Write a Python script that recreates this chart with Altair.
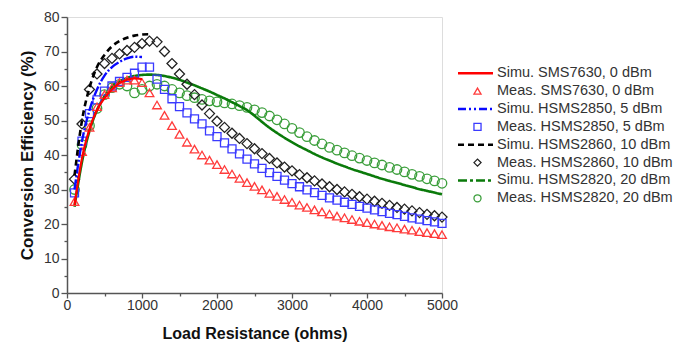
import altair as alt
import pandas as pd

# ---------------- data ----------------
load_ohms = [100, 200, 300, 400, 500, 600, 700, 800, 900, 1000,
             1100, 1200, 1300, 1400, 1500, 1600, 1700, 1800, 1900, 2000,
             2100, 2200, 2300, 2400, 2500, 2600, 2700, 2800, 2900, 3000,
             3100, 3200, 3300, 3400, 3500, 3600, 3700, 3800, 3900, 4000,
             4100, 4200, 4300, 4400, 4500, 4600, 4700, 4800, 4900, 5000]

meas_sms7630 = [26.5, 41, 48, 54, 57.5, 59.5, 61, 61.7, 61.7, 61,
                58, 54.5, 51.5, 48.5, 46, 43.7, 41.7, 40, 38.5, 37.2,
                35.8, 34.5, 33.2, 32, 30.9, 29.9, 28.9, 28, 27.1, 26.3,
                25.5, 24.8, 24.1, 23.5, 22.9, 22.3, 21.8, 21.3, 20.8, 20.4,
                20, 19.6, 19.2, 18.9, 18.5, 18.2, 17.8, 17.5, 17.2, 16.9]

meas_hsms2850 = [29, 44, 52, 56, 58.5, 60, 61.3, 62.5, 63.7, 65.5,
                 65.5, 62, 59, 56.3, 54, 52.2, 50.5, 49, 47, 45.3,
                 43.5, 41.8, 40.3, 38.8, 37.4, 36.1, 34.9, 33.8, 32.7, 31.7,
                 30.8, 29.9, 29.1, 28.3, 27.6, 26.9, 26.3, 25.7, 25.1, 24.6,
                 24.1, 23.6, 23.1, 22.7, 22.2, 21.8, 21.4, 21, 20.6, 20.2]

meas_hsms2860 = [33, 49, 59, 63.5, 66.5, 68, 69.3, 70.3, 71.2, 72.3,
                 73, 72.8, 70, 66.5, 63.5, 60.5, 57.5, 54.5, 52, 49.8,
                 48, 46.3, 44.8, 43.3, 41.8, 40.4, 39, 37.7, 36.5, 35.4,
                 34.3, 33.4, 32.5, 31.6, 30.8, 30, 29.3, 28.6, 27.9, 27.2,
                 26.6, 26, 25.4, 24.8, 24.3, 23.8, 23.3, 22.8, 22.4, 22]

meas_hsms2820 = [30, 43, 48.5, 53.5, 57.5, 59.5, 60.5, 60, 58, 59,
                 60, 60.5, 60, 59, 58, 57.2, 56.6, 56.1, 55.7, 55.4,
                 55.1, 54.8, 54.3, 53.8, 53.1, 52.3, 51.3, 50.2, 49, 47.7,
                 46.5, 45.3, 44.2, 43.2, 42.2, 41.4, 40.6, 39.8, 39.1, 38.4,
                 37.7, 37.1, 36.4, 35.8, 35.1, 34.4, 33.8, 33.1, 32.5, 31.8]

simu_hsms2820 = [25, 38, 47, 53, 57, 59.8, 61.3, 62.3, 62.9, 63.2,
                 63.3, 63.2, 62.9, 62.4, 61.8, 61, 60.2, 59.3, 58.4, 57.4,
                 56.4, 55.3, 54.2, 53, 51.4, 49.6, 47.9, 46.4, 45, 43.7,
                 42.5, 41.4, 40.3, 39.3, 38.4, 37.5, 36.7, 35.9, 35.2, 34.5,
                 33.8, 33.1, 32.5, 31.9, 31.3, 30.7, 30.1, 29.6, 29.1, 28.6]

simu_short_ohms = [100, 200, 300, 400, 500, 600, 700, 800, 900, 1000, 1100]
simu_sms7630 = [25.5, 39, 47.5, 53, 56.5, 59, 60.8, 61.8, 62.2, 62]
simu_hsms2850 = [30, 44, 53, 59, 63, 65.5, 67, 68, 68.5, 68.4]
simu_hsms2860 = [34, 50, 59.5, 65.5, 69, 71.5, 73, 74, 74.6, 74.9, 75]

legend_labels = ["Simu. SMS7630, 0 dBm", "Meas. SMS7630, 0 dBm",
                 "Simu. HSMS2850, 5 dBm", "Meas. HSMS2850, 5 dBm",
                 "Simu. HSMS2860, 10 dBm", "Meas. HSMS2860, 10 dBm",
                 "Simu. HSMS2820, 20 dBm", "Meas. HSMS2820, 20 dBm"]

# ---------------- styles ----------------
FONT = "Liberation Sans"
RED, RED_M = "#ff0000", "#ff3b3b"
BLUE, BLUE_M = "#0a0aff", "#3a3aff"
BLACK, BLACK_M = "#000000", "#222222"
GREEN, GREEN_M = "#0a7a0a", "#3a9e3a"
DASH_RED = [1, 0]
DASH_BLUE = [8, 3, 2, 3, 2, 3]
DASH_BLACK = [6, 4]
DASH_GREEN = [9, 3, 3, 3]
AXIS_COLOR = "#555555"

x_enc = alt.X(
    "R:Q",
    scale=alt.Scale(domain=[0, 5000], nice=False, zero=False),
    axis=alt.Axis(
        title="Load Resistance (ohms)",
        values=list(range(0, 5001, 500)),
        labelExpr="datum.value % 1000 === 0 ? datum.label : ''",
        format="d",
        tickSize={"condition": {"test": "datum.value % 1000 === 0", "value": 5}, "value": 3},
        grid=False, labelFlush=False, labelOverlap=False,
        labelFont=FONT, labelFontSize=14, labelColor="#333333", labelPadding=0,
        titleFont=FONT, titleFontSize=16, titleFontWeight="bold", titleColor="#111111",
        titlePadding=13,
        domainColor=AXIS_COLOR, domainWidth=1.5, tickColor=AXIS_COLOR, tickWidth=1.3,
    ),
)
y_enc = alt.Y(
    "eff:Q",
    scale=alt.Scale(domain=[0, 80], nice=False),
    axis=alt.Axis(
        title="Conversion Efficiency (%)",
        values=list(range(0, 81, 5)),
        labelExpr="datum.value % 10 === 0 ? datum.label : ''",
        tickSize={"condition": {"test": "datum.value % 10 === 0", "value": 6}, "value": 3},
        grid=False, labelOverlap=False,
        labelFont=FONT, labelFontSize=14, labelColor="#333333", labelPadding=2,
        titleFont=FONT, titleFontSize=17, titleFontWeight="bold", titleColor="#111111",
        titlePadding=7,
        domainColor=AXIS_COLOR, domainWidth=1.5, tickColor=AXIS_COLOR, tickWidth=1.3,
    ),
)


def simu_line(ohms, vals, color, dash, width):
    df = pd.DataFrame({"R": ohms[:len(vals)], "eff": vals})
    return alt.Chart(df).mark_line(
        color=color, strokeDash=dash, strokeWidth=width, interpolate="monotone"
    ).encode(x=x_enc, y=y_enc)


def meas_points(vals, color, shape, size):
    df = pd.DataFrame({"R": load_ohms, "eff": vals})
    return alt.Chart(df).mark_point(
        shape=shape, size=size, filled=False, color=color, strokeWidth=1.3, opacity=1
    ).encode(x=x_enc, y=y_enc)


main = alt.layer(
    meas_points(meas_hsms2820, GREEN_M, "circle", 90),
    simu_line(load_ohms, simu_hsms2820, GREEN, [1, 0], 2.6),
    meas_points(meas_hsms2860, BLACK_M, "diamond", 100),
    meas_points(meas_hsms2850, BLUE_M, "square", 64),
    meas_points(meas_sms7630, RED_M, "triangle-up", 75),
    simu_line(simu_short_ohms, simu_sms7630, RED, DASH_RED, 2.2),
    simu_line(simu_short_ohms, simu_hsms2850, BLUE, [10, 2, 2, 2], 2.4),
    simu_line(simu_short_ohms, simu_hsms2860, BLACK, DASH_BLACK, 2.6),
)

# ---------------- legend (drawn to the right of the plot area) ----------------
leg = pd.DataFrame({
    "idx": list(range(8)),
    "label": legend_labels,
    "color": [RED, RED_M, BLUE, BLUE_M, BLACK, BLACK_M, GREEN, GREEN_M],
    "dash": [DASH_RED, [1, 0], DASH_BLUE, [1, 0], DASH_BLACK, [1, 0], DASH_GREEN, [1, 0]],
    "shape": ["circle", "triangle-up", "circle", "square", "circle", "diamond", "circle", "circle"],
    "kind": ["simu", "meas"] * 4,
})
leg_y = alt.Y("idx:Q", scale=alt.Scale(domain=[-3.15, 12.3], reverse=True, nice=False, zero=False), axis=None)

leg_lines = alt.Chart(leg).transform_filter("datum.kind === 'simu'").mark_rule(strokeWidth=2.4).encode(
    x=alt.value(391), x2=alt.value(426), y=leg_y,
    color=alt.Color("color:N", scale=None),
    strokeDash=alt.StrokeDash("dash", scale=None),
)
leg_marks = alt.Chart(leg).transform_filter("datum.kind === 'meas'").mark_point(
    filled=False, size=50, strokeWidth=1.3, opacity=1
).encode(
    x=alt.value(410.5), y=leg_y,
    color=alt.Color("color:N", scale=None),
    shape=alt.Shape("shape:N", scale=None),
)
leg_text = alt.Chart(leg).mark_text(
    align="left", baseline="middle", font=FONT, fontSize=14.5, color="#333333"
).encode(x=alt.value(430), y=leg_y, text="label:N")

legend_layer = alt.layer(leg_lines, leg_marks, leg_text)

chart = alt.layer(main, legend_layer).resolve_scale(y="independent").properties(
    width=375, height=276,
    autosize=alt.AutoSizeParams(type="none"),
    padding={"left": 67, "top": 17, "right": 253, "bottom": 52},
).configure_view(stroke=AXIS_COLOR, strokeWidth=1.5).configure(background="white")

chart.save("out.html", embed_options={"renderer": "svg", "actions": False})
